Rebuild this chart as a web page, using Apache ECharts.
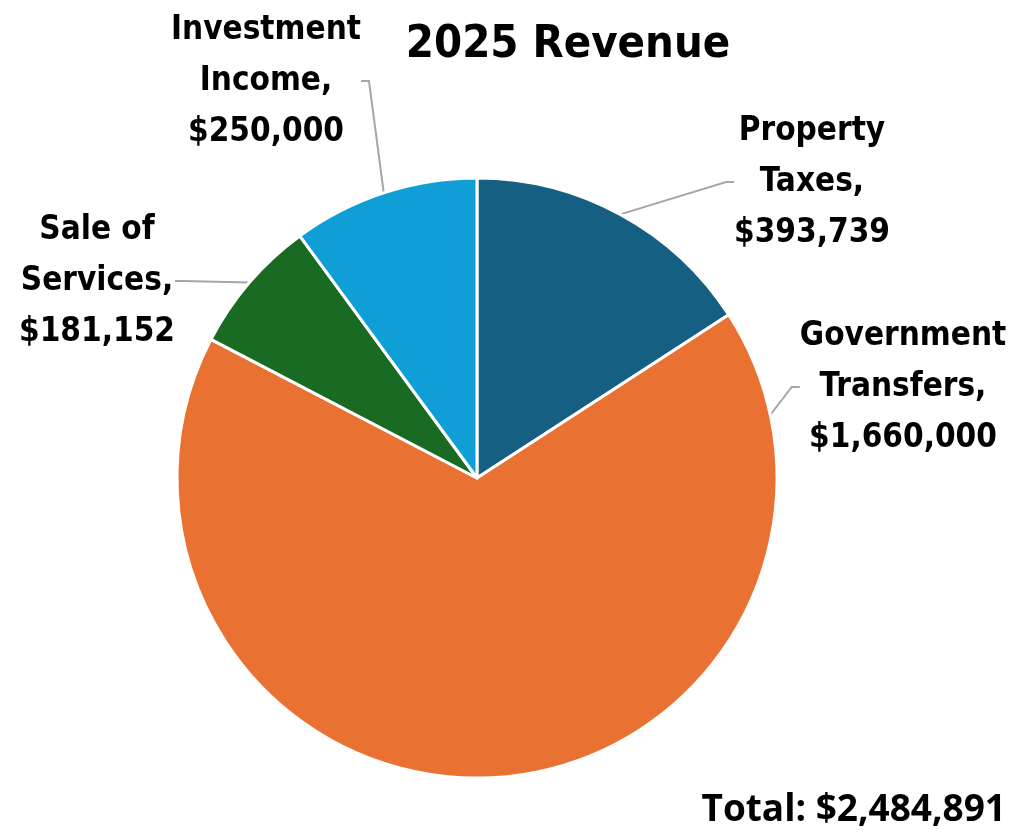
<!DOCTYPE html>
<html><head><meta charset="utf-8">
<script src="https://cdn.jsdelivr.net/npm/echarts@6/dist/echarts.min.js"></script>
<style>html,body{margin:0;padding:0;background:#fff}#c{width:1016px;height:838px}</style>
</head><body><div id="c"></div>
<script>
const categories = ['Property Taxes', 'Government Transfers', 'Sale of Services', 'Investment Income'];
const labelNames = ['Property\nTaxes,', 'Government\nTransfers,', 'Sale of\nServices,', 'Investment\nIncome,'];
const values = [393739, 1660000, 181152, 250000];
const colors = ['#156082', '#E97132', '#196B24', '#0F9ED5'];
const titleText = '2025 Revenue';
const totalText = 'Total: $2,484,891';

const labelPos = [[812, 182], [903, 387], [97, 281], [266, 81]];
const fontFam = '"Liberation Sans Narrow","DejaVu Sans Condensed","Roboto",sans-serif';
const fmt = v => '$' + v.toLocaleString('en-US');

const chart = echarts.init(document.getElementById('c'));
chart.setOption({
  animation: false,
  title: {
    text: titleText, left: 563, top: 40, textAlign: 'center', textVerticalAlign: 'middle',
    textStyle: { fontFamily: fontFam, fontWeight: 'bold', fontSize: 45, color: '#000' }
  },
  graphic: [{
    type: 'text', right: 10, top: 792,
    style: { text: totalText, font: 'bold 37px "Open Sans", "Liberation Sans", sans-serif', fill: '#000' }
  }],
  series: [{
    type: 'pie',
    center: [477, 478],
    radius: 300,
    startAngle: 90,
    clockwise: true,
    data: categories.map((c, i) => ({ name: c, value: values[i], itemStyle: { color: colors[i] } })),
    itemStyle: { borderColor: '#fff', borderWidth: 3 },
    label: {
      show: true, position: 'outside',
      formatter: p => labelNames[p.dataIndex] + '\n' + fmt(p.value),
      fontFamily: fontFam, fontWeight: 'bold', fontSize: 33, lineHeight: 51,
      color: '#000', align: 'center'
    },
    labelLine: { show: true, length: 30, length2: 8, lineStyle: { color: '#A6A6A6', width: 2 } },
    labelLayout: p => ({ x: labelPos[p.dataIndex][0], y: labelPos[p.dataIndex][1], align: 'center', verticalAlign: 'middle' })
  }]
});
</script></body></html>
